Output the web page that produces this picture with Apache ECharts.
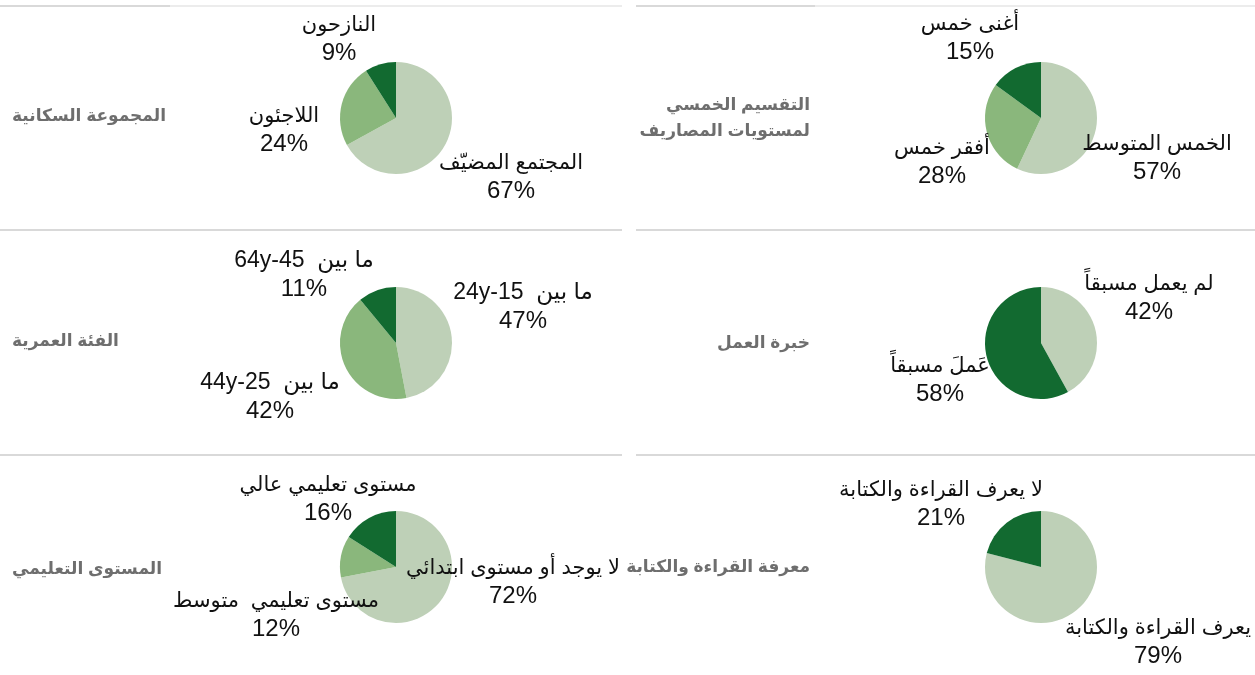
<!DOCTYPE html>
<html>
<head>
<meta charset="utf-8">
<script src="https://cdn.jsdelivr.net/npm/echarts@6/dist/echarts.min.js"></script>
<style>
  html, body { margin: 0; padding: 0; background: #ffffff; }
  #chart { width: 1255px; height: 675px; direction: rtl; }
</style>
</head>
<body>
<div id="chart" dir="rtl"></div>
<script>
// ---------- data ----------
const popCats   = ['المجتمع المضيّف', 'اللاجئون', 'النازحون'];
const popVals   = [67, 24, 9];
const quintCats = ['الخمس المتوسط', 'أفقر خمس', 'أغنى خمس'];
const quintVals = [57, 28, 15];
const ageCats   = ['ما بين  15-24y', 'ما بين  25-44y', 'ما بين  45-64y'];
const ageVals   = [47, 42, 11];
const workCats  = ['لم يعمل مسبقاً', 'عَملَ مسبقاً'];
const workVals  = [42, 58];
const eduCats   = ['لا يوجد أو مستوى ابتدائي', 'مستوى تعليمي  متوسط', 'مستوى تعليمي عالي'];
const eduVals   = [72, 12, 16];
const litCats   = ['يعرف القراءة والكتابة', 'لا يعرف القراءة والكتابة'];
const litVals   = [79, 21];
const panelTitles = [
  'المجموعة السكانية',
  'التقسيم الخمسي\nلمستويات المصاريف',
  'الفئة العمرية',
  'خبرة العمل',
  'المستوى التعليمي',
  'معرفة القراءة والكتابة'
];

// ---------- layout / style ----------
const LIGHT = '#bed0b7', MID = '#8ab77c', DARK = '#126a30';
const panels = [
  { cats: popCats,   vals: popVals,   colors: [LIGHT, MID, DARK], cx: 396,  cy: 118, tx: 12,  tAlign: 'left',  ty: 116, nameSize: 21 },
  { cats: quintCats, vals: quintVals, colors: [LIGHT, MID, DARK], cx: 1041, cy: 118, tx: 810, tAlign: 'right', ty: 118, nameSize: 21 },
  { cats: ageCats,   vals: ageVals,   colors: [LIGHT, MID, DARK], cx: 396,  cy: 343, tx: 12,  tAlign: 'left',  ty: 341, nameSize: 23 },
  { cats: workCats,  vals: workVals,  colors: [LIGHT, DARK],      cx: 1041, cy: 343, tx: 810, tAlign: 'right', ty: 343, nameSize: 21 },
  { cats: eduCats,   vals: eduVals,   colors: [LIGHT, MID, DARK], cx: 396,  cy: 567, tx: 12,  tAlign: 'left',  ty: 569, nameSize: 21 },
  { cats: litCats,   vals: litVals,   colors: [LIGHT, DARK],      cx: 1041, cy: 567, tx: 810, tAlign: 'right', ty: 567, nameSize: 21 }
];
// label block centre, relative to its pie centre (px)
const labelOffsets = [
  [[115, 59], [-112, 12], [-57, -79]],
  [[116, 40], [-99, 44], [-71, -80]],
  [[127, -36], [-126, 54], [-92, -68]],
  [[108, -45], [-101, 37]],
  [[117, 15], [-120, 48], [-68, -68]],
  [[117, 75], [-100, -63]]
];
const RADIUS = 56;
const LABEL_FONT = '"Liberation Sans", Arial, "DejaVu Sans", sans-serif';

const chart = echarts.init(document.getElementById('chart'), null, { renderer: 'canvas' });

const series = panels.map((p, si) => ({
  type: 'pie',
  center: [p.cx, p.cy],
  radius: RADIUS,
  startAngle: 90,
  clockwise: true,
  avoidLabelOverlap: false,
  silent: true,
  itemStyle: { borderWidth: 0 },
  label: {
    show: true,
    position: 'outside',
    formatter: '{n|{b}}\n{v|{c}%}',
    color: '#111111',
    fontFamily: LABEL_FONT,
    align: 'center',
    rich: {
      n: { fontSize: p.nameSize, lineHeight: 28, color: '#111111', fontFamily: LABEL_FONT, align: 'center' },
      v: { fontSize: 24, lineHeight: 28, color: '#111111', fontFamily: LABEL_FONT, align: 'center' }
    }
  },
  labelLine: { show: false },
  labelLayout: function (params) {
    const off = labelOffsets[si][params.dataIndex];
    return { x: p.cx + off[0], y: p.cy + off[1], align: 'center', verticalAlign: 'middle' };
  },
  emphasis: { disabled: true },
  data: p.cats.map((c, i) => ({ name: c, value: p.vals[i], itemStyle: { color: p.colors[i] } }))
}));

const titles = panels.map((p, i) => ({
  text: panelTitles[i],
  left: p.tx,
  top: p.ty,
  textAlign: p.tAlign,
  textVerticalAlign: 'middle',
  padding: 0,
  textStyle: {
    color: '#6e6e6e',
    fontSize: 17,
    fontWeight: 'bold',
    lineHeight: 26,
    fontFamily: LABEL_FONT
  }
}));

function hline(x1, x2, y, color) {
  return { type: 'line', silent: true, shape: { x1: x1, y1: y, x2: x2, y2: y }, style: { stroke: color, lineWidth: 2 } };
}

chart.setOption({
  animation: false,
  backgroundColor: '#ffffff',
  title: titles,
  graphic: [
    hline(0, 170, 6, '#d9d9d9'), hline(170, 622, 6, '#ececec'),
    hline(636, 815, 6, '#d9d9d9'), hline(815, 1255, 6, '#ececec'),
    hline(0, 622, 230, '#d9d9d9'), hline(636, 1255, 230, '#d9d9d9'),
    hline(0, 622, 455, '#d9d9d9'), hline(636, 1255, 455, '#d9d9d9')
  ],
  series: series
});
</script>
</body>
</html>
